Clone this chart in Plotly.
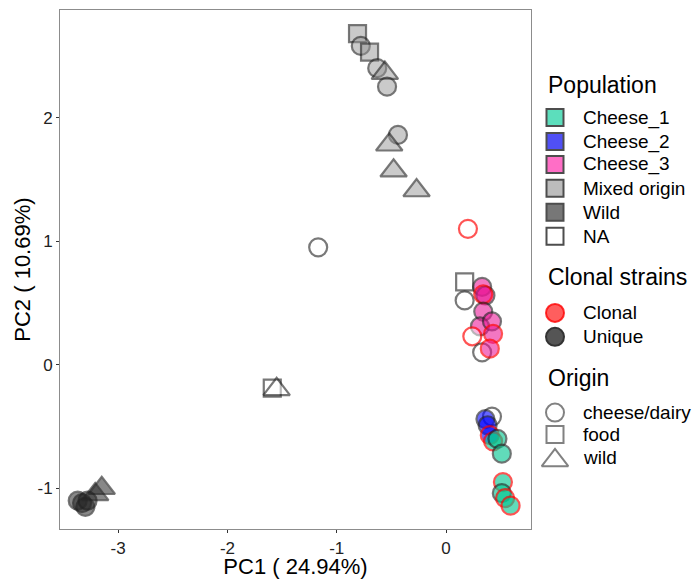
import plotly.graph_objects as go

# PCA coordinates and sample annotations
pc1 = [-0.81, -0.78, -0.70, -0.63, -0.56, -0.54, -0.44, -0.52, -0.48, -0.27,
       -1.17, -1.59, -1.55,
       -3.21, -3.15, -3.37, -3.33, -3.30, -3.28,
       0.20, 0.17, 0.17,
       0.33, 0.36, 0.34, 0.34, 0.31, 0.42, 0.43, 0.24, 0.33, 0.40,
       0.42, 0.36, 0.38, 0.40,
       0.43, 0.47, 0.51, 0.52, 0.51, 0.54, 0.59]
pc2 = [2.68, 2.58, 2.53, 2.40, 2.36, 2.25, 1.86, 1.78, 1.57, 1.41,
       0.95, -0.19, -0.20,
       -1.05, -1.00, -1.10, -1.12, -1.15, -1.10,
       1.10, 0.67, 0.52,
       0.63, 0.56, 0.57, 0.43, 0.31, 0.35, 0.25, 0.23, 0.10, 0.13,
       -0.42, -0.44, -0.49, -0.57,
       -0.62, -0.60, -0.72, -0.95, -1.04, -1.08, -1.14]
population = (["Mixed origin"] * 10 + ["NA"] * 3 + ["Wild"] * 6 + ["NA"] * 3
              + ["Cheese_3"] * 7 + ["NA"] * 2 + ["Cheese_3"]
              + ["NA"] + ["Cheese_2"] * 3 + ["Cheese_1"] * 7)
clonal = (["Unique"] * 10 + ["Unique"] * 3 + ["Unique"] * 6
          + ["Clonal", "Unique", "Unique"]
          + ["Unique", "Unique", "Clonal", "Unique", "Unique", "Unique", "Clonal",
             "Clonal", "Unique", "Clonal"]
          + ["Unique", "Unique", "Unique", "Clonal"]
          + ["Clonal", "Unique", "Unique", "Clonal", "Unique", "Clonal", "Clonal"])
origin = (["food", "cheese/dairy", "food", "cheese/dairy", "wild", "cheese/dairy",
           "cheese/dairy", "wild", "wild", "wild"]
          + ["cheese/dairy", "food", "wild"]
          + ["wild", "wild", "cheese/dairy", "cheese/dairy", "cheese/dairy", "cheese/dairy"]
          + ["cheese/dairy", "food", "cheese/dairy"]
          + ["cheese/dairy"] * 10
          + ["cheese/dairy"] * 4
          + ["cheese/dairy"] * 7)

pop_levels = ["Cheese_1", "Cheese_2", "Cheese_3", "Mixed origin", "Wild", "NA"]
clonal_levels = ["Clonal", "Unique"]
origin_levels = ["cheese/dairy", "food", "wild"]

pop_fill = {
    "Cheese_1": "rgba(0,198,145,0.88)",
    "Cheese_2": "rgba(0,0,255,0.85)",
    "Cheese_3": "rgba(235,20,150,0.82)",
    "Mixed origin": "rgba(150,150,150,0.70)",
    "Wild": "rgba(40,40,40,0.78)",
    "NA": "rgba(255,255,255,0.70)",
}
pop_key_fill = {
    "Cheese_1": "#5cdebc",
    "Cheese_2": "#5050f5",
    "Cheese_3": "#ff6ec6",
    "Mixed origin": "#bcbcbc",
    "Wild": "#777777",
    "NA": "#ffffff",
}
clonal_line = {"Clonal": "rgba(255,0,0,0.95)", "Unique": "rgba(30,30,30,0.85)"}
clonal_key_fill = {"Clonal": "rgba(255,40,40,0.75)", "Unique": "#555555"}
clonal_key_line = {"Clonal": "rgba(255,0,0,0.8)", "Unique": "#333333"}
origin_symbol = {"cheese/dairy": "circle", "food": "square", "wild": "triangle-up"}
origin_size = {"cheese/dairy": 18, "food": 17, "wild": 23}

fig = go.Figure()

fig.add_trace(go.Scatter(
    x=pc1, y=pc2, mode="markers", showlegend=False, hoverinfo="skip",
    marker=dict(
        symbol=[origin_symbol[o] for o in origin],
        size=[origin_size[o] for o in origin],
        color=[pop_fill[p] for p in population],
        line=dict(color=[clonal_line[c] for c in clonal], width=2.2),
    ),
))

# Legend drawn on an overlay axis measured in figure pixels
W, H = 696, 579
key_x, text_x, title_x = 555, 581, 546
font = "Liberation Sans, Arial, sans-serif"
annotations = []


def legend_title(text, y):
    annotations.append(dict(x=title_x, y=y, xref="x2", yref="y2", text=text,
                            showarrow=False, xanchor="left", yanchor="middle",
                            font=dict(family=font, size=23, color="#000000")))


def legend_label(text, y):
    annotations.append(dict(x=text_x, y=y, xref="x2", yref="y2", text=text,
                            showarrow=False, xanchor="left", yanchor="middle",
                            font=dict(family=font, size=19, color="#000000")))


legend_title("Population", 85)
pop_y = [118, 142, 165, 189, 213, 237]
fig.add_trace(go.Scatter(
    x=[key_x] * len(pop_levels), y=pop_y, xaxis="x2", yaxis="y2", mode="markers",
    showlegend=False, hoverinfo="skip",
    marker=dict(symbol="square", size=17,
                color=[pop_key_fill[p] for p in pop_levels],
                line=dict(color="#4d4d4d", width=2)),
))
for p, y in zip(pop_levels, pop_y):
    legend_label(p, y)

legend_title("Clonal strains", 278)
cl_y = [314, 338]
fig.add_trace(go.Scatter(
    x=[key_x] * 2, y=cl_y, xaxis="x2", yaxis="y2", mode="markers",
    showlegend=False, hoverinfo="skip",
    marker=dict(symbol="circle", size=18,
                color=[clonal_key_fill[c] for c in clonal_levels],
                line=dict(color=[clonal_key_line[c] for c in clonal_levels], width=2)),
))
for c, y in zip(clonal_levels, cl_y):
    legend_label(c, y)

legend_title("Origin", 379)
or_y = [414, 436, 459]
fig.add_trace(go.Scatter(
    x=[key_x] * 3, y=[or_y[0], or_y[1], or_y[2] + 3], xaxis="x2", yaxis="y2",
    mode="markers", showlegend=False, hoverinfo="skip",
    marker=dict(symbol=[origin_symbol[o] for o in origin_levels],
                size=[18, 17, 23], color="rgba(255,255,255,0)",
                line=dict(color="#4d4d4d", width=2)),
))
for o, y in zip(origin_levels, or_y):
    legend_label(o, y)

axis_common = dict(
    showgrid=False, zeroline=False, showline=True, mirror=True,
    linecolor="#8c8c8c", linewidth=1, ticks="outside", ticklen=3,
    tickcolor="#333333", tickwidth=1,
    tickfont=dict(family=font, size=17, color="#222222"),
)

fig.update_layout(
    width=W, height=H,
    margin=dict(l=0, r=0, t=0, b=0),
    paper_bgcolor="white", plot_bgcolor="rgba(0,0,0,0)",
    font=dict(family=font),
    xaxis=dict(domain=[60 / W, 531 / W], range=[-3.532, 0.777],
               tickvals=[-3, -2, -1, 0], ticktext=["-3", "-2", "-1", "0"],
               title=dict(text="PC1 ( 24.94%)", standoff=6,
                          font=dict(family=font, size=22, color="#000000")),
               anchor="y", **axis_common),
    yaxis=dict(domain=[1 - 531 / H, 1 - 10 / H], range=[-1.331, 2.871],
               tickvals=[-1, 0, 1, 2], ticktext=["-1", "0", "1", "2"],
               title=dict(text="PC2 ( 10.69%)", standoff=0,
                          font=dict(family=font, size=22, color="#000000")),
               anchor="x", **axis_common),
    xaxis2=dict(domain=[0, 1], range=[0, W], visible=False, fixedrange=True,
                anchor="y2"),
    yaxis2=dict(domain=[0, 1], range=[H, 0], visible=False, fixedrange=True,
                anchor="x2"),
    annotations=annotations,
    showlegend=False,
)

fig.write_html("out.html")
